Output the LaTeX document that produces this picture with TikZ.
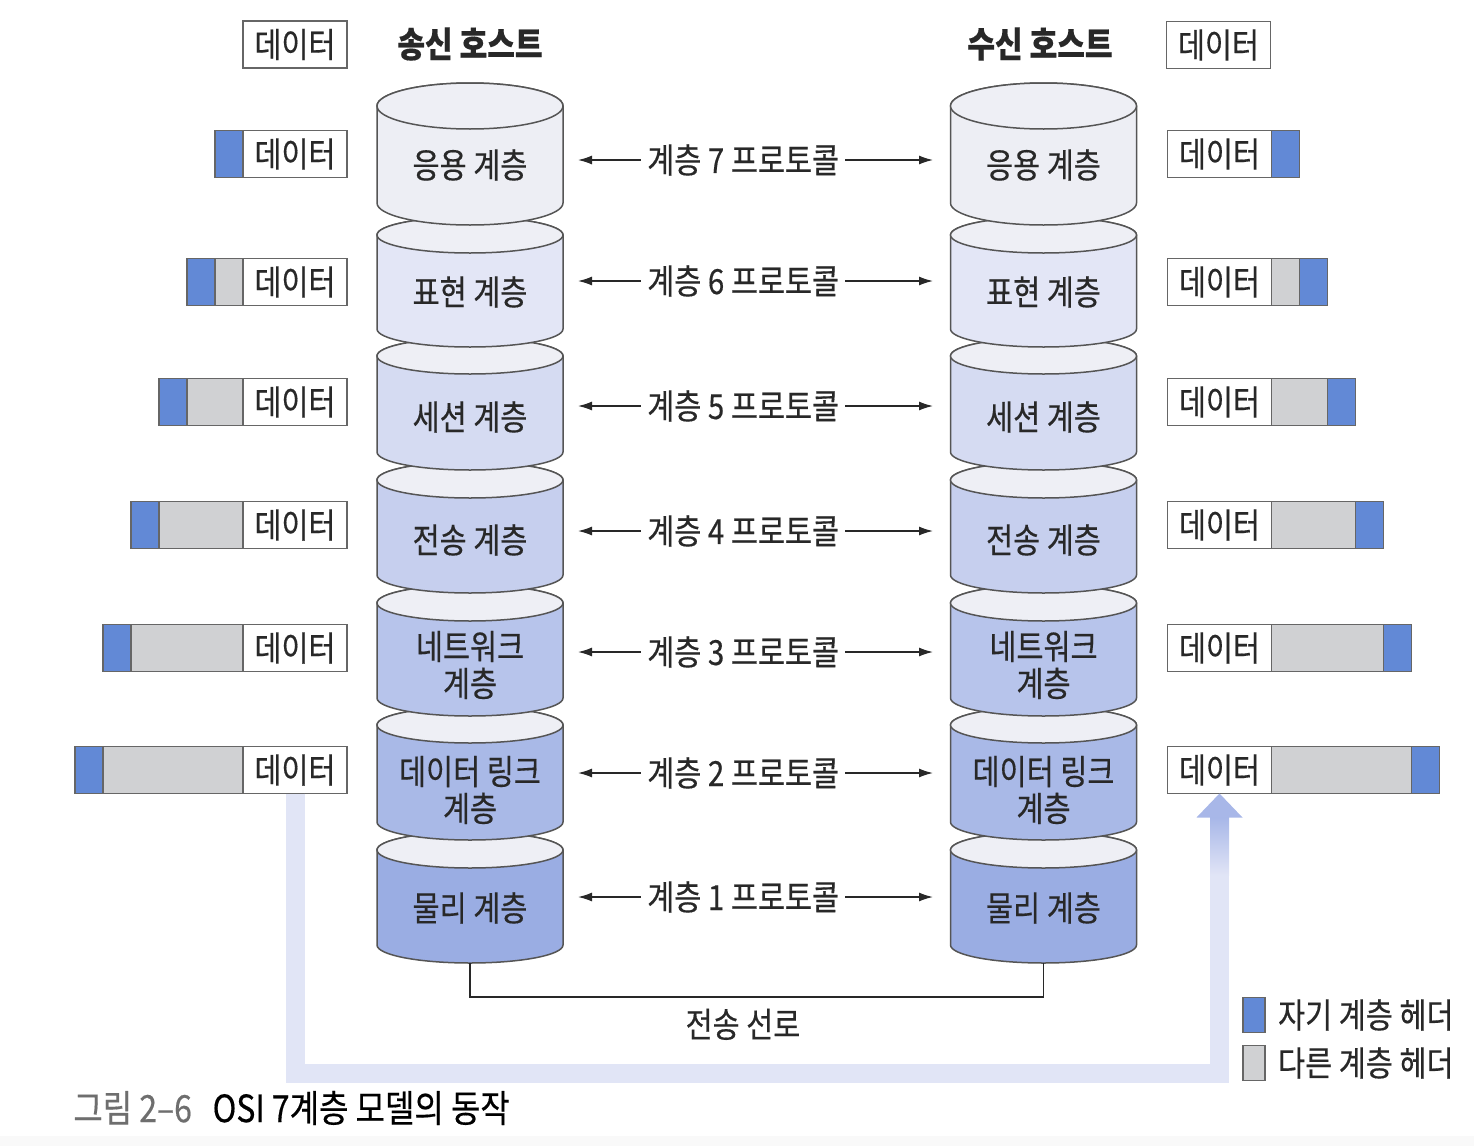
\documentclass[tikz,border=0pt]{standalone}
\usepackage{fontspec}
\setmainfont[FakeStretch=0.85,FakeBold=0.4]{Noto Sans CJK KR}
\usetikzlibrary{arrows.meta,positioning}

\definecolor{own}{RGB}{98,137,214}
\definecolor{other}{RGB}{208,209,211}
\definecolor{edgegray}{RGB}{85,85,85}
\definecolor{boxgray}{RGB}{102,102,102}
\definecolor{topface}{RGB}{238,239,245}
\definecolor{lay1}{RGB}{237,238,244}
\definecolor{lay2}{RGB}{227,230,246}
\definecolor{lay3}{RGB}{213,219,242}
\definecolor{lay4}{RGB}{198,207,238}
\definecolor{lay5}{RGB}{183,196,235}
\definecolor{lay6}{RGB}{169,185,231}
\definecolor{lay7}{RGB}{154,173,227}
\definecolor{flow}{RGB}{225,229,246}
\definecolor{flowhead}{RGB}{168,183,232}
\definecolor{capgray}{RGB}{110,110,110}
\definecolor{ink}{RGB}{40,40,40}
\definecolor{paper}{RGB}{249,249,249}

\begin{document}
\begin{tikzpicture}
                [
                x=0.5pt,y=0.5pt,
                font=\fontsize{17.3}{18.5}\selectfont,
                lbl/.style={inner sep=0pt,text=ink},
                layer/.style={inner sep=0pt,outer sep=0pt,minimum width=93pt,align=center,text=ink},
                databox/.style={draw=boxgray,line width=0.7pt,fill=white,minimum width=52pt,minimum height=23.5pt,inner sep=0pt,outer sep=0pt,text=ink},
                hdr/.style={draw=boxgray,line width=0.7pt},
                host/.style={font=\fontsize{17.7}{20}\selectfont\bfseries,text=ink},
                proto/.style={<->,>={Latex[length=7pt,width=4.5pt]},draw=ink,line width=0.7pt,shorten <=7.5pt,shorten >=8.75pt},
                protolabel/.style={fill=white,inner xsep=3pt,inner ysep=1pt,text=ink},
                wire/.style={draw=ink,line width=0.75pt},
                flowline/.style={draw=flow,line width=9.5pt,-{Triangle[width=23pt,length=12pt,line width=0pt,color=flowhead]}},
                legbox/.style={draw=boxgray,line width=0.7pt,minimum width=11pt,minimum height=17.5pt,inner sep=0pt}
                ]
            \useasboundingbox (0,0) rectangle (1474,-1146);
            \fill[paper] (0,-1136) rectangle (1474,-1146);
            % layers, lowest first so each upper one overlaps
            \foreach \i/\t/\b/\rt/\rb in {7/832/963/18/18,6/707/840/18/18,5/585/716/18/18,4/462/593/18/18,3/338/470/18/18,2/217/347/18/18,1/83/225/23/22}
              \foreach \cx in {470,1043.5}
              {
                \filldraw[fill=lay\i,draw=edgegray,line width=0.75pt]
                  (\cx-93,-\t-\rt) -- (\cx-93,-\b+\rb)
                  arc[start angle=180,end angle=360,x radius=93,y radius=\rb]
                  -- (\cx+93,-\t-\rt)
                  arc[start angle=0,end angle=180,x radius=93,y radius=\rt] -- cycle;
                \filldraw[fill=topface,draw=edgegray,line width=0.75pt]
                  (\cx,-\t-\rt) ellipse[x radius=93,y radius=\rt];
              }
            \foreach \i/\y/\name in {1/165/응용 계층,2/292/표현 계층,3/417/세션 계층,4/540/전송 계층,5/665/네트워크\\계층,6/790/데이터 링크\\계층,7/908/물리 계층}
            {
              \node[layer] (s\i) at (470,-\y) {\name};
              \node[layer] (r\i) at (1043.5,-\y) {\name};
            }
            \foreach \i/\n/\d in {1/7/2.5,2/6/5.5,3/5/5.5,4/4/4.5,5/3/6.5,6/2/8.5,7/1/5.5}
              \draw[proto] ([yshift=\d pt]s\i.east) -- node[protolabel,pos=.465]{계층 \n\ 프로토콜} ([yshift=\d pt]r\i.west);
            \node[host] (shost) at (470,-44) {송신 호스트};
            \node[host] (rhost) at (1040,-44) {수신 호스트};
            \node[databox] (sd0) at (295,-44.5) {데이터};
            \node[databox] (rd0) at (1218.5,-45) {데이터};
            \foreach \i/\y in {1/154,2/282,3/402,4/525,5/648,6/770}
            {
              \node[databox] (sd\i) at (295,-\y) {데이터};
              \node[databox] (rd\i) at (1219.5,-\y) {데이터};
              \pgfmathsetmacro\g{28*(\i-1)}
              \ifnum\i>1
                \filldraw[hdr,fill=other] (sd\i.north west) rectangle ++(-\g,-47);
                \filldraw[hdr,fill=other] (rd\i.north east) rectangle ++(\g,-47);
              \fi
              \filldraw[hdr,fill=own] (sd\i.north west) ++(-\g,0) rectangle ++(-28,-47);
              \filldraw[hdr,fill=own] (rd\i.north east) ++(\g,0) rectangle ++(28,-47);
            }
            \coordinate (sbot) at (470,-963);
            \coordinate (rbot) at (1043.5,-963);
            \draw[wire] (sbot) -- ++(0,-34) -| node[lbl,pos=.238,below=5.5pt]{전송 선로} (rbot);
            \draw[flowline] (sd6.south) -- ++(0,-280) -| (rd6.south);
            \shade[top color=flowhead,bottom color=flow] ([xshift=-4.75pt,yshift=-12pt]rd6.south) rectangle ([xshift=4.75pt,yshift=-41pt]rd6.south);
            \node[legbox,fill=own] (k1) at (1254,-1015) {};
            \node[lbl,right=6pt of k1] (k1t) {자기 계층 헤더};
            \node[legbox,fill=other] (k2) at (1254,-1063) {};
            \node[lbl,right=6pt of k2] (k2t) {다른 계층 헤더};
            \node[lbl,anchor=west,font=\fontsize{18.8}{21}\selectfont] (caption) at (73,-1108) {\textcolor{capgray}{그림 2–6}\hspace{0.55em}{\color{black}OSI 7계층 모델의 동작}};
            \end{tikzpicture}
\end{document}
